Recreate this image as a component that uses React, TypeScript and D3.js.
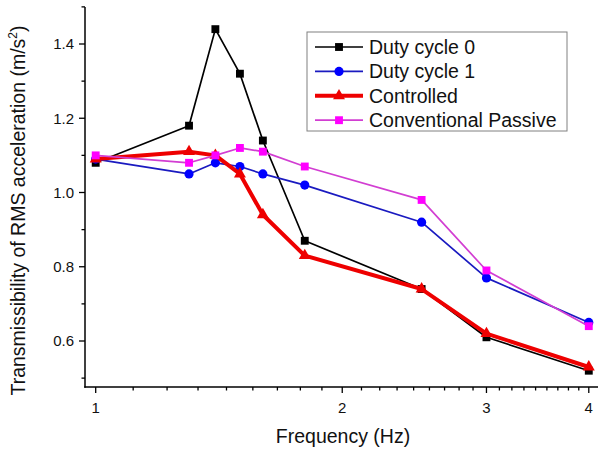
import React from "react";
import * as d3 from "d3";

const frequencies = [1, 1.3, 1.4, 1.5, 1.6, 1.8, 2.5, 3, 4];
const dutyCycle0 = [1.08, 1.18, 1.44, 1.32, 1.14, 0.87, 0.74, 0.61, 0.52];
const dutyCycle1 = [1.09, 1.05, 1.08, 1.07, 1.05, 1.02, 0.92, 0.77, 0.65];
const controlled = [1.09, 1.11, 1.1, 1.05, 0.94, 0.83, 0.74, 0.62, 0.53];
const conventionalPassive = [1.1, 1.08, 1.1, 1.12, 1.11, 1.07, 0.98, 0.79, 0.64];

const seriesNames = ["Duty cycle 0", "Duty cycle 1", "Controlled", "Conventional Passive"];
const xMajorTicks = [1, 2, 3, 4];
const yMajorTicks = [0.6, 0.8, 1.0, 1.2, 1.4];
const yMinorTicks = [0.5, 0.7, 0.9, 1.1, 1.3, 1.5];

const W = 599;
const H = 449;
const FONT = "'Liberation Sans', Arial, Helvetica, sans-serif";

const left = 85;
const right = 598;
const bottom = 387;

const x = d3
  .scaleLog()
  .domain([Math.pow(10, (left - 95.7) / 819), Math.pow(10, (right - 95.7) / 819)])
  .range([left, right]);
const y = d3.scaleLinear().domain([0.6, 1.4]).range([341, 44]);

const xMinorTicks: number[] = [];
for (const m of [1, 2, 3, 4]) {
  for (let k = 1; k <= 8; k++) {
    const v = m + k / 9;
    if (x(v) <= right + 0.5) xMinorTicks.push(v);
  }
}

const styles = [
  { line: "#000000", fill: "#000000", width: 1.7, symbol: d3.symbolSquare, size: 62 },
  { line: "#1a1ac0", fill: "#0000ff", width: 1.7, symbol: d3.symbolCircle, size: 66 },
  { line: "#ee0000", fill: "#ee0000", width: 4, symbol: d3.symbolTriangle, size: 62 },
  { line: "#d23ed2", fill: "#ff00ff", width: 1.7, symbol: d3.symbolSquare, size: 62 },
];

const seriesValues = [dutyCycle0, dutyCycle1, controlled, conventionalPassive];

export default function App() {
  const line = d3
    .line<number>()
    .x((_, i) => x(frequencies[i]))
    .y((d) => y(d));

  const legendX = 307;
  const legendY = 32;
  const legendW = 260;
  const legendH = 99;
  const rowY0 = 47;
  const rowStep = 24.4;

  return (
    <svg
      width={W}
      height={H}
      style={{ position: "absolute", left: 0, top: 0, background: "#fff" }}
      fontFamily={FONT}
    >
      <rect x={0} y={0} width={W} height={H} fill="#fff" />
      {seriesValues.map((vals, si) => {
        const st = styles[si];
        const sym = d3.symbol().type(st.symbol).size(st.size)();
        return (
          <g key={si}>
            <path
              d={line(vals) || ""}
              fill="none"
              stroke={st.line}
              strokeWidth={st.width}
              strokeLinejoin="round"
            />
            {vals.map((v, i) => (
              <path
                key={i}
                d={sym || ""}
                transform={`translate(${x(frequencies[i])},${y(v)})`}
                fill={st.fill}
                stroke="none"
              />
            ))}
          </g>
        );
      })}

      <line x1={left} x2={left} y1={y(1.5)} y2={bottom + 0.75} stroke="#000" strokeWidth={1.5} />
      <line x1={left - 0.75} x2={right} y1={bottom} y2={bottom} stroke="#000" strokeWidth={1.5} />
      {yMajorTicks.map((t) => (
        <g key={t}>
          <line x1={left - 6} x2={left} y1={y(t)} y2={y(t)} stroke="#000" strokeWidth={1.3} />
          <text x={74} y={y(t)} dy="0.36em" textAnchor="end" fontSize={15} fill="#111">
            {d3.format(".1f")(t)}
          </text>
        </g>
      ))}
      {yMinorTicks.map((t) => (
        <line key={t} x1={left - 3.5} x2={left} y1={y(t)} y2={y(t)} stroke="#000" strokeWidth={1.3} />
      ))}
      {xMajorTicks.map((t) => (
        <g key={t}>
          <line x1={x(t)} x2={x(t)} y1={bottom} y2={bottom + 6} stroke="#000" strokeWidth={1.3} />
          <text x={x(t)} y={413.3} textAnchor="middle" fontSize={15} fill="#111">
            {String(t)}
          </text>
        </g>
      ))}
      {xMinorTicks.map((t) => (
        <line key={t} x1={x(t)} x2={x(t)} y1={bottom} y2={bottom + 3.5} stroke="#000" strokeWidth={1.3} />
      ))}

      <text x={343} y={442.5} textAnchor="middle" fontSize={19.5} fill="#111">
        Frequency (Hz)
      </text>
      <text
        transform="translate(24.5,210.5) rotate(-90)"
        textAnchor="middle"
        fontSize={19.5}
        fill="#111"
      >
        Transmissibility of RMS acceleration (m/s
        <tspan fontSize={12} dy={-8}>2</tspan>
        <tspan dy={8}>)</tspan>
      </text>

      <rect
        x={legendX}
        y={legendY}
        width={legendW}
        height={legendH}
        fill="#fff"
        stroke="#808080"
        strokeWidth={1}
      />
      {seriesNames.map((name, i) => {
        const st = styles[i];
        const cy = rowY0 + i * rowStep;
        const sym = d3.symbol().type(st.symbol).size(st.size)();
        return (
          <g key={name}>
            <line x1={315} x2={363} y1={cy} y2={cy} stroke={st.line} strokeWidth={st.width} />
            <path d={sym || ""} transform={`translate(339,${cy})`} fill={st.fill} />
            <text x={369} y={cy} dy="0.36em" fontSize={19.5} fill="#111">
              {name}
            </text>
          </g>
        );
      })}
    </svg>
  );
}
